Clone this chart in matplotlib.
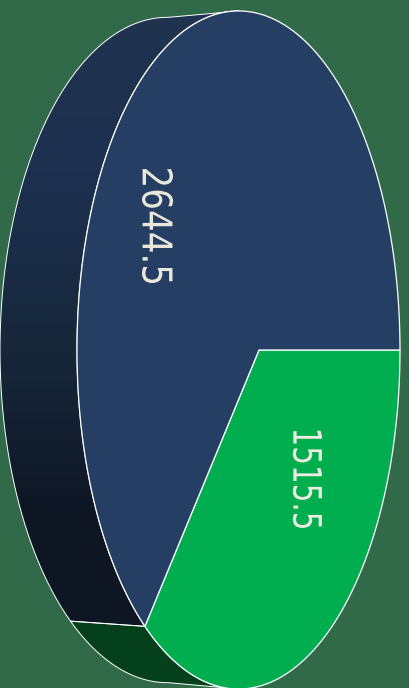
"""Extruded pie seen at an angle, with a projective map from the unit circle to pixels."""
import numpy as np
import matplotlib; matplotlib.use("Agg")
import matplotlib.pyplot as plt
from matplotlib.colors import LinearSegmentedColormap
from matplotlib.patches import Polygon
from matplotlib.patheffects import AbstractPathEffect
from matplotlib.transforms import Affine2D

values = [1515.5, 2644.5]
labels = ["1515.5", "2644.5"]
face_colors = ["#00AE4F", "#243F63"]
side_colors = [["#04401C", "#04401C"], ["#20344F", "#1D3050", "#17283B", "#0E1624", "#0E1624"]]
label_pos = [(304, 479), (154, 226)]
label_sizes = [21.2, 24.6]
label_stretch = [1.33, 1.2]
label_colors = ["#EDEBDF", "#E9E6DA"]
BG = "#306A48"

W, H = 409, 688
K = 0.127           # perspective strength
FRONT = (259, 158.9, 336.3)   # x apex, x scale, y scale
BACK = (189, 165, 330)
CY = 350
SIDE_SPAN = 83      # silhouette angle either side of the leftmost point


class StretchX(AbstractPathEffect):
    # the labels are taller across the baseline than any installed font
    def __init__(self, cx, sx):
        super().__init__()
        self.cx, self.sx = cx, sx

    def draw_path(self, renderer, gc, tpath, affine, rgbFace=None):
        stretch = Affine2D().translate(-self.cx, 0).scale(self.sx, 1).translate(self.cx, 0)
        renderer.draw_path(gc, tpath, affine + stretch, rgbFace)


def proj(deg, cam, r=1.0):
    t = np.radians(deg)
    u, v = r*np.cos(t), r*np.sin(t)
    return np.column_stack([cam[0] + cam[1]*u/(1 + K*u), CY + cam[2]*v/(1 + K*u)])


def arc(a, b, cam, n=200):
    return proj(np.linspace(a, b, n), cam)


fig = plt.figure(figsize=(W/100, H/100), dpi=100, facecolor=BG)
ax = fig.add_axes([0, 0, 1, 1])
ax.set_xlim(0, W); ax.set_ylim(H, 0); ax.axis("off")

angles = np.cumsum([0] + values)/sum(values)*360
cut = angles[1]

# sides first, front face goes on top of them
side_spans = [(180 - SIDE_SPAN, cut), (cut, 180 + SIDE_SPAN)]
for (a, b), stops in zip(side_spans, side_colors):
    pts = np.vstack([arc(a, b, FRONT), arc(b, a, BACK)])
    poly = Polygon(pts, closed=True, fc="none", ec="none", transform=ax.transData)
    ax.add_patch(poly)
    cmap = LinearSegmentedColormap.from_list("side", stops)
    im = ax.imshow(np.linspace(0, 1, 256)[:, None], cmap=cmap, aspect="auto",
                   extent=(0, W, H, 0), interpolation="bilinear", zorder=1)
    im.set_clip_path(poly)
    ax.add_patch(Polygon(pts, closed=True, fc="none", ec="white", lw=0.7, zorder=2))
ax.set_xlim(0, W); ax.set_ylim(H, 0)

# front face
apex = proj(np.array([0.0]), FRONT, r=0.0)
for i, c in enumerate(face_colors):
    pts = np.vstack([apex, arc(angles[i], angles[i+1], FRONT)])
    ax.add_patch(Polygon(pts, closed=True, fc=c, ec="white", lw=0.9, zorder=3,
                         joinstyle="round"))

for txt, (x, y), c, fs, sx in zip(labels, label_pos, label_colors, label_sizes, label_stretch):
    ax.text(x, y, txt, color=c, rotation=-90, ha="center", va="center", rotation_mode="anchor",
            fontsize=fs, family="DejaVu Sans", zorder=4,
            path_effects=[StretchX(x, sx)])

fig.savefig("out.png", dpi=100, facecolor=BG)
